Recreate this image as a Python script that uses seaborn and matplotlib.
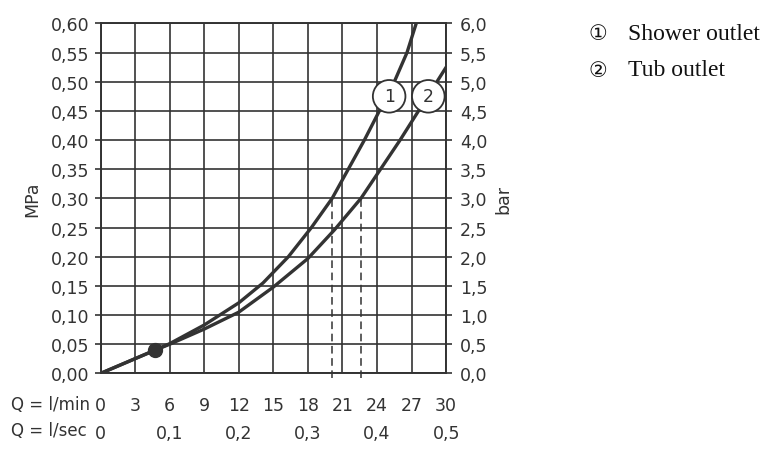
import matplotlib
matplotlib.use("Agg")
import matplotlib.pyplot as plt
import numpy as np
import pandas as pd
import seaborn as sns

# Flow rate Q (l/min) vs pressure (MPa)
Q_SHOWER = [0, 4.75, 6, 9, 12, 14.1, 16.3, 18.3, 20.1, 21.5, 22.9, 24.2, 25.5, 26.6, 27.4]
P_SHOWER = [0, 0.040, 0.051, 0.083, 0.121, 0.155, 0.20, 0.25, 0.30, 0.35, 0.40, 0.45, 0.50, 0.55, 0.60]
Q_TUB = [0, 4.75, 6, 9, 12, 15, 18, 20.3, 22.6, 24.3, 26.0, 27.6, 29.2, 30]
P_TUB = [0, 0.040, 0.050, 0.076, 0.105, 0.148, 0.197, 0.246, 0.30, 0.35, 0.40, 0.45, 0.50, 0.525]

MIN_FLOW = (4.75, 0.040)          # dot on both curves
DASH_Q = [20.1, 22.6]             # dashed markers at 0.3 MPa
DASH_P = 0.30

LPM_TICKS = list(range(0, 31, 3))
LPS_TICKS = [0, 0.1, 0.2, 0.3, 0.4, 0.5]
MPA_TICKS = [round(0.05 * i, 2) for i in range(13)]
BAR_TICKS = [round(0.5 * i, 1) for i in range(13)]

INK = "#333333"

df = pd.concat([
    pd.DataFrame({"Q": Q_SHOWER, "P": P_SHOWER, "outlet": "1"}),
    pd.DataFrame({"Q": Q_TUB, "P": P_TUB, "outlet": "2"}),
])

sns.set_style("white")
plt.rcParams["font.family"] = ["DejaVu Sans"]
plt.rcParams["text.color"] = INK
plt.rcParams["axes.labelcolor"] = INK
plt.rcParams["xtick.color"] = INK
plt.rcParams["ytick.color"] = INK

fig = plt.figure(figsize=(7.8, 4.56), dpi=100)
ax = fig.add_axes([0.129, 0.179, 0.443, 0.7675])

# grid first, curves on top
ax.set_xlim(0, 30)
ax.set_ylim(0, 0.6)
ax.set_xticks(LPM_TICKS)
ax.set_xticklabels([str(t) for t in LPM_TICKS])
ax.set_yticks(MPA_TICKS)
ax.set_yticklabels([f"{t:.2f}".replace(".", ",") for t in MPA_TICKS])
ax.grid(True, color=INK, linewidth=1.2)
ax.set_axisbelow(True)
for s in ax.spines.values():
    s.set_color(INK)
    s.set_linewidth(1.4)

sns.lineplot(data=df, x="Q", y="P", units="outlet", estimator=None, sort=False,
             color=INK, linewidth=2.4, ax=ax, zorder=3, legend=False)

for q in DASH_Q:
    ax.plot([q, q], [-0.008, DASH_P], color=INK, linewidth=1.1,
            linestyle=(0, (5, 3)), clip_on=False, zorder=2)

ax.plot(*MIN_FLOW, marker="o", markersize=10, color=INK, zorder=4)

# circled curve labels
for label, q in (("1", 25.05), ("2", 28.45)):
    ax.text(q, 0.475, label, ha="center", va="center", fontsize=12.5, zorder=5,
            bbox=dict(boxstyle="circle,pad=0.42", facecolor="white",
                      edgecolor=INK, linewidth=1.3))

ax.tick_params(axis="x", direction="out", length=3, width=1.2, pad=13, labelsize=12.5)
ax.tick_params(axis="y", direction="out", length=4, width=1.2, pad=4, labelsize=12.5)
ax.set_xlabel("")
ax.set_ylabel("MPa", fontsize=12.5, labelpad=7)

# l/sec row under l/min row
sec = ax.secondary_xaxis(-0.1, functions=(lambda q: q / 60, lambda s: s * 60))
sec.set_xticks(LPS_TICKS)
sec.set_xticklabels(["0" if t == 0 else f"{t:.1f}".replace(".", ",") for t in LPS_TICKS])
sec.tick_params(length=0, pad=11, labelsize=12.5)
sec.spines["bottom"].set_visible(False)

fig.text(11 / 780, 1 - 405 / 456, "Q = l/min", fontsize=12, va="center", ha="left")
fig.text(11 / 780, 1 - 431 / 456, "Q = l/sec", fontsize=12, va="center", ha="left")

# bar axis on the right
ax2 = ax.twinx()
ax2.set_ylim(0, 6)
ax2.set_yticks(BAR_TICKS)
ax2.set_yticklabels([f"{t:.1f}".replace(".", ",") for t in BAR_TICKS])
ax2.tick_params(axis="y", direction="out", length=4, width=1.2, pad=6, labelsize=12.5)
ax2.set_ylabel("bar", fontsize=12.5, rotation=90, labelpad=5)
for s in ax2.spines.values():
    s.set_visible(False)

# outlet key
key = [("\u2460", "Shower outlet", 34), ("\u2461", "Tub outlet", 71)]
for mark, name, y in key:
    fig.text(598 / 780, 1 - y / 456, mark, fontsize=15, ha="center", va="center",
             color="#111111", family=["DejaVu Sans"])
    fig.text(628 / 780, 1 - y / 456, name, fontsize=17, ha="left", va="center",
             color="#111111", family=["Liberation Serif"])

fig.savefig("out.png", dpi=100)
